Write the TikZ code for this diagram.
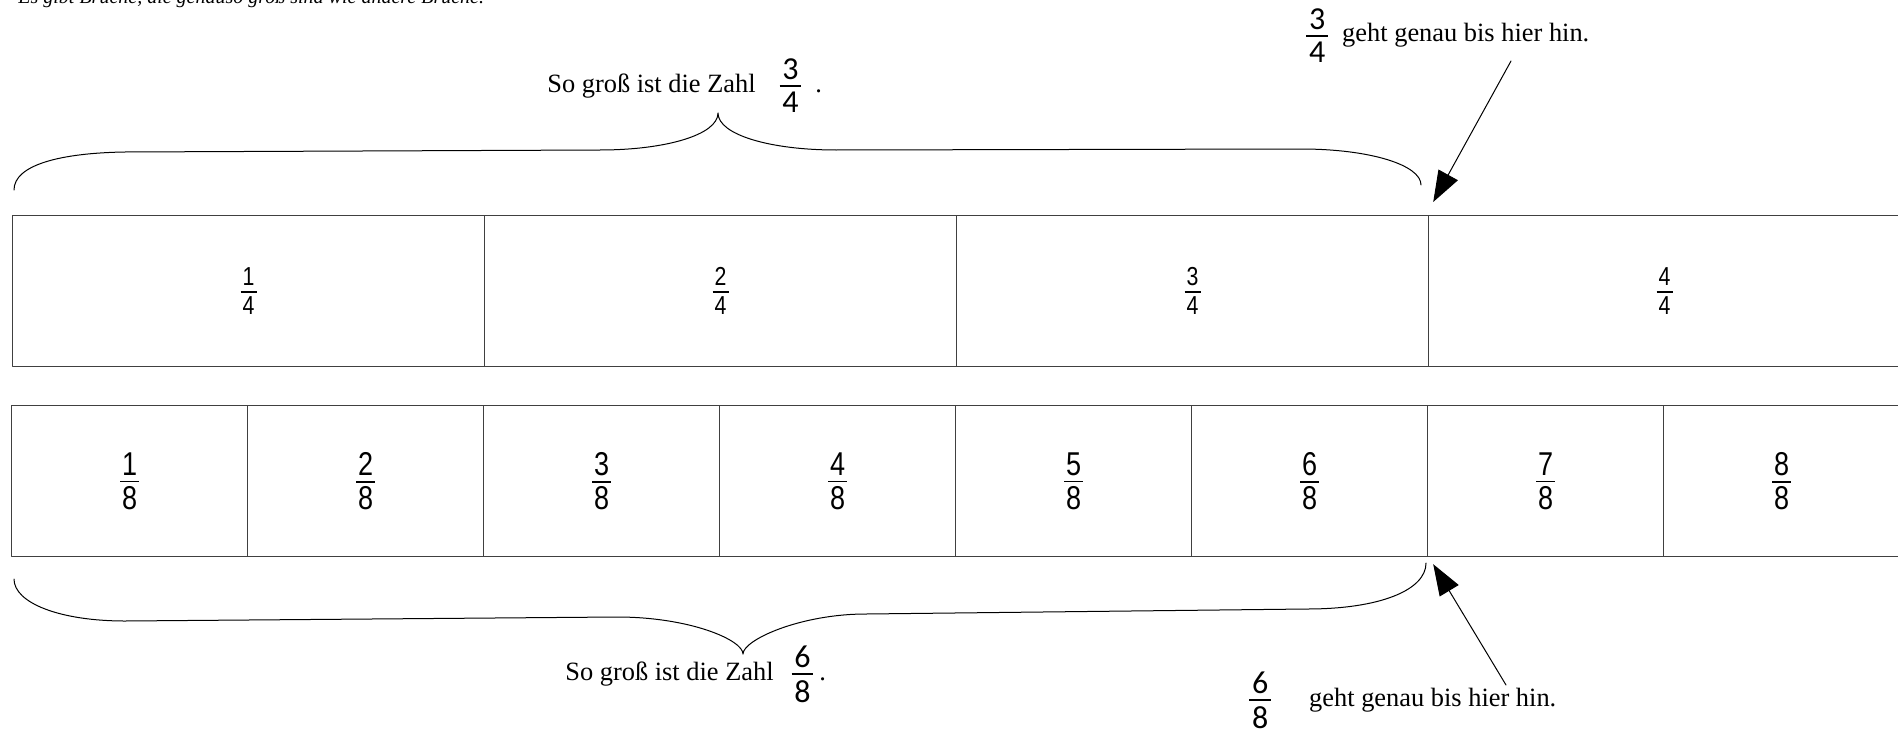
\documentclass[tikz,border=0pt]{standalone}
\usepackage{amsmath}
\usepackage{fontspec}
\setmainfont{Liberation Serif}
\newfontfamily\cellsans[FakeStretch=0.82]{Liberation Sans}
\newfontfamily\numsans{Carlito}
\usetikzlibrary{arrows.meta,positioning}
% fraction inside a bar cell: size, numerator, denominator
\newcommand{\cellfrac}[3]{{\nulldelimiterspace=0pt$\genfrac{}{}{0.6pt}{0}{\raisebox{-2pt}{\fontsize{#1}{#1}\cellsans\kern1pt#2\kern1pt}}{\hbox{\fontsize{#1}{#1}\cellsans\kern1pt#3\kern1pt}}$}}
% fraction inside a label
\newcommand{\lblfrac}[2]{{\nulldelimiterspace=0pt$\genfrac{}{}{0.9pt}{0}{\raisebox{-2pt}{\fontsize{16}{16}\numsans\kern1.4pt#1\kern1.4pt}}{\hbox{\fontsize{16}{16}\numsans\kern1.4pt#2\kern1.4pt}}$}}
\begin{document}
\begin{tikzpicture}[x=0.5pt,y=-0.5pt,line join=round,line cap=round]
	\tikzset{quarter/.style={draw=black!75,line width=0.6pt,anchor=north west,inner sep=0pt,
			minimum width=236pt,minimum height=75.5pt,font=\fontsize{13}{15}\selectfont},
		eighth/.style={quarter,minimum width=118pt},
		lbl/.style={inner sep=0pt,anchor=base west,font=\fontsize{13.2}{15}\selectfont},
		brace/.style={line width=0.5pt},
		pointer/.style={-{Triangle[length=15.5pt,width=11pt]},line width=0.5pt}}
	\useasboundingbox (0,0) rectangle (1898,733);
	\clip (0,0) rectangle (1898,733);
	\node[lbl,font=\fontsize{10}{12}\selectfont\itshape] (intro) at (18,4) {Es gibt Brüche, die genauso groß sind wie andere Brüche.};
	% the two bars
	\foreach \i in {1,...,4} \node[quarter] (q\i) at ({12+(\i-1)*472},215) {\cellfrac{13}{\i}{4}};
	\foreach \i in {1,...,8} \node[eighth] (e\i) at ({11+(\i-1)*236},405) {\cellfrac{16.5}{\i}{8}};
	% labels
	\node[lbl] (sizeA) at (547,92) {So groß ist die Zahl\hspace{12pt}\lblfrac{3}{4}\hspace{7pt}.};
	\node[lbl] (reachA) at (1306,42) {\lblfrac{3}{4}\hspace{7pt}geht genau bis hier hin.};
	\node[lbl] (sizeB) at (565,680) {So groß ist die Zahl\hspace{9pt}\lblfrac{6}{8}\hspace{3pt}.};
	\node[lbl] (reachB) at (1249,706) {\lblfrac{6}{8}\hspace{19pt}geht genau bis hier hin.};
	% braces
	\draw[brace] (14,190) .. controls (14,165) and (60,153) .. (125,152) -- (600,150)
		.. controls (665,150) and (718,135) .. (718,113)
		.. controls (718,135) and (771,150) .. (836,150) -- (1301,149)
		.. controls (1370,149) and (1421,165) .. (1421,185);
	\draw[brace] (14,579) .. controls (14,603) and (60,621) .. (125,621) -- (617,617)
		.. controls (690,617) and (743,640) .. (743,654)
		.. controls (743,640) and (800,614) .. (866,614) -- (1307,609)
		.. controls (1380,609) and (1426,590) .. (1426,563);
	% arrows
	\coordinate (tailA) at (1511,61);
	\coordinate (tipA) at ([xshift=2pt,yshift=6.5pt]q3.north east);
	\coordinate (tailB) at (1506,685);
	\coordinate (tipB) at ([xshift=2.5pt,yshift=-3.5pt]e6.south east);
	\draw[pointer] (tailA) -- (tipA);
	\draw[pointer] (tailB) -- (tipB);
\end{tikzpicture}
\end{document}
